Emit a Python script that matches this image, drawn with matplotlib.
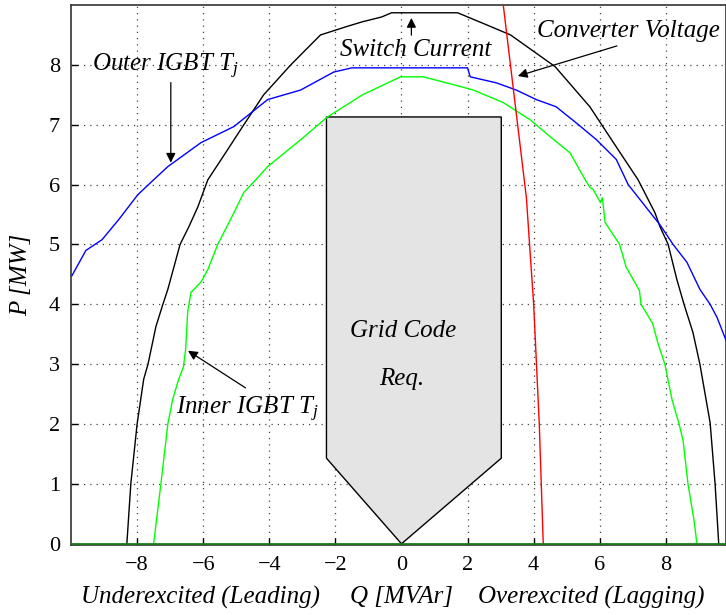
#!/usr/bin/env python3

import numpy as np
import matplotlib
matplotlib.use('Agg')
import matplotlib.pyplot as plt

#------------------------------------------------------------
# data (Q in MVAr, P in MW)
#------------------------------------------------------------
switch_q = [-8.31, -8.19, -8.0, -7.8, -7.67, -7.43, -7.22, -7.07, -6.7, -6.43, -6.16, -5.86,
            -5.3, -4.77, -4.17, -3.35, -2.45, -1.6, -1.18, -0.6, -0.3, 1.7, 2.57, 3.3, 4.65,
            5.7, 6.5, 7.16, 7.67, 7.82, 8.07, 8.33, 8.55, 8.82, 9.03, 9.34, 9.49, 9.6]
switch_p = [0.0, 1.0, 2.0, 2.75, 3.0, 3.63, 4.0, 4.25, 5.0, 5.3, 5.63, 6.08,
            6.55, 7.0, 7.5, 8.0, 8.5, 8.65, 8.72, 8.8, 8.87, 8.87, 8.67, 8.5, 7.97,
            7.3, 6.63, 6.08, 5.53, 5.3, 5.0, 4.42, 4.0, 3.53, 3.0, 2.02, 1.0, 0.0]

outer_q = [-9.97, -9.55, -9.06, -8.55, -7.98, -7.5, -7.07, -6.07, -5.07, -4.05, -3.05, -2.05,
           -1.5, 2.0, 2.08, 2.87, 3.47, 4.08, 4.68, 5.29, 5.9, 6.5, 6.86, 7.46, 7.82, 8.22,
           8.64, 9.03, 9.34, 9.55, 9.82]
outer_p = [4.48, 4.9, 5.08, 5.42, 5.83, 6.08, 6.3, 6.7, 6.97, 7.42, 7.58, 7.88,
           7.95, 7.95, 7.8, 7.7, 7.58, 7.42, 7.3, 7.03, 6.75, 6.42, 6.0, 5.58, 5.33, 5.0,
           4.7, 4.25, 4.0, 3.78, 3.4]

inner_q = [-7.5, -7.28, -7.07, -6.92, -6.74, -6.6, -6.53, -6.47, -6.37, -6.07, -5.86, -5.56,
           -5.07, -4.77, -4.41, -4.05, -3.05, -2.24, -1.18, -0.03, 0.66, 1.57, 2.17, 3.08,
           3.9, 4.5, 5.1, 5.56, 5.71, 5.8, 6.02, 6.08, 6.16, 6.6, 6.8, 7.2, 7.25, 7.6, 7.76,
           7.97, 8.19, 8.4, 8.52, 8.67, 8.85, 8.94]
inner_p = [0.0, 1.0, 2.0, 2.42, 2.75, 2.95, 3.25, 3.87, 4.2, 4.37, 4.58, 5.0,
           5.53, 5.87, 6.08, 6.3, 6.75, 7.13, 7.5, 7.8, 7.8, 7.67, 7.58, 7.37,
           7.08, 6.8, 6.53, 6.08, 5.95, 5.92, 5.7, 5.78, 5.37, 5.0, 4.62, 4.23, 4.0, 3.68, 3.35,
           3.0, 2.4, 2.0, 1.73, 1.0, 0.4, 0.0]

voltage_q = [3.08, 3.78, 4.0, 4.17, 4.29]
voltage_p = [9.0, 5.78, 4.0, 2.0, 0.0]

# grid code requirement polygon
grid_q = [-2.27, 3.02, 3.02, 0.0, -2.27]
grid_p = [7.13, 7.13, 1.43, 0.0, 1.43]

xticks = [-8, -6, -4, -2, 0, 2, 4, 6, 8]
yticks = [0, 1, 2, 3, 4, 5, 6, 7, 8]

#------------------------------------------------------------
#------------------------------------------------------------
plt.rcParams['font.family'] = ['Liberation Serif', 'DejaVu Serif']
plt.rcParams['mathtext.fontset'] = 'custom'
plt.rcParams['mathtext.rm'] = 'Liberation Serif'
plt.rcParams['mathtext.it'] = 'Liberation Serif:italic'

fig = plt.figure(figsize=(7.26, 6.15), dpi=100)
ax = fig.add_axes([71 / 726, 70 / 615, 655 / 726, 540 / 615])

ax.fill(grid_q, grid_p, facecolor='#e4e4e4', edgecolor='black', linewidth=1.0, zorder=2)

ax.plot(switch_q, switch_p, color='black', linewidth=1.0, zorder=3)
ax.plot(outer_q, outer_p, color='#0000ff', linewidth=1.0, zorder=3)
ax.plot(inner_q, inner_p, color='#00ff00', linewidth=1.0, zorder=3)
ax.plot(voltage_q, voltage_p, color='#ff0000', linewidth=1.0, zorder=4)
ax.axhline(0, color='#1a7a1a', linewidth=2.0, zorder=5)

ax.set_xlim(-10, 9.82)
ax.set_ylim(-0.02, 9.0)
ax.set_xticks(xticks)
ax.set_yticks(yticks)
ax.set_xticklabels(['\u2212%d' % -t if t < 0 else '%d' % t for t in xticks])
ax.tick_params(direction='in', labelsize=16, length=5, width=1, pad=8)
ax.grid(True, linestyle=(0, (1, 4)), color='#444444', linewidth=0.9)
ax.set_axisbelow(True)
for s in ax.spines.values():
    s.set_linewidth(1.2)
    s.set_color('#333333')

ax.set_ylabel('P [MW]', fontsize=18, style='italic', labelpad=12)

# three-part x label
ax.text(0.198, -0.097, 'Underexcited (Leading)', transform=ax.transAxes,
        ha='center', va='center', fontsize=18, style='italic')
ax.text(0.505, -0.097, 'Q [MVAr]', transform=ax.transAxes,
        ha='center', va='center', fontsize=18, style='italic')
ax.text(0.794, -0.097, 'Overexcited (Lagging)', transform=ax.transAxes,
        ha='center', va='center', fontsize=18, style='italic')

# annotations
arrow = dict(arrowstyle='-|>', color='black', linewidth=0.9, mutation_scale=14)
ax.annotate('', xy=(0.3, 8.83), xytext=(0.3, 8.45), arrowprops=arrow, zorder=6)
ax.text(0.42, 8.25, 'Switch Current', fontsize=18, style='italic', ha='center', va='center', zorder=6)

ax.annotate('', xy=(3.44, 7.8), xytext=(6.6, 8.33), arrowprops=arrow, zorder=6)
ax.text(6.86, 8.57, 'Converter Voltage', fontsize=18, style='italic', ha='center', va='center', zorder=6)

ax.annotate('', xy=(-6.98, 6.32), xytext=(-6.98, 7.75), arrowprops=arrow, zorder=6)
ax.text(-7.13, 7.98, 'Outer IGBT $T_j$', fontsize=18, style='italic', ha='center', va='center', zorder=6)

ax.annotate('', xy=(-6.53, 3.25), xytext=(-4.65, 2.58), arrowprops=arrow, zorder=6)
ax.text(-4.65, 2.25, 'Inner IGBT $T_j$', fontsize=18, style='italic', ha='center', va='center', zorder=6)

ax.text(0.05, 3.55, 'Grid Code', fontsize=18, style='italic', ha='center', va='center', zorder=6)
ax.text(0.0, 2.75, 'Req.', fontsize=18, style='italic', ha='center', va='center', zorder=6)

plt.savefig('out.png', dpi=100)
